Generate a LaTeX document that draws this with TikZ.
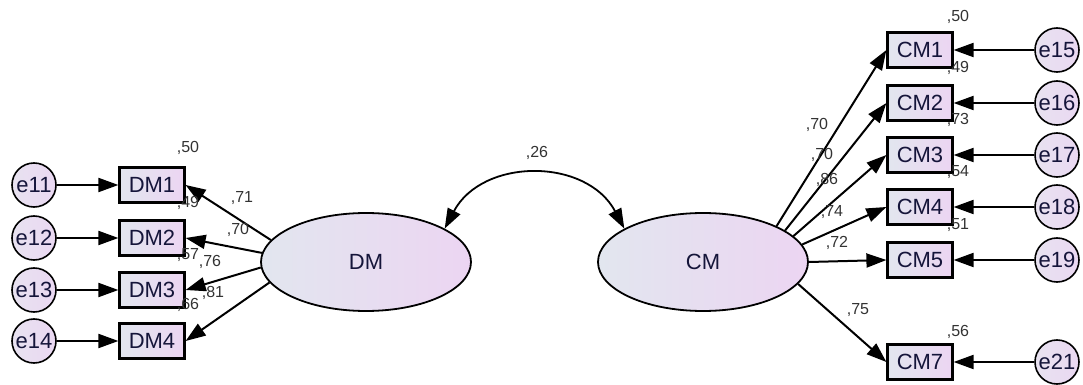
\documentclass[tikz,border=0pt]{standalone}
\usepackage{fontspec}
\setmainfont{Liberation Sans}
\usetikzlibrary{arrows.meta,shapes.geometric}
\definecolor{fillL}{HTML}{E2E6EF}
\definecolor{fillR}{HTML}{ECD5F2}
\definecolor{errL}{HTML}{E8E2F0}
\definecolor{errR}{HTML}{EAD8F2}
\definecolor{txt}{HTML}{15153A}
\tikzset{
	obsbox/.style={draw, rectangle, line width=1.1pt, minimum width=32.5pt, minimum height=17.5pt, inner sep=0pt, left color=fillL, right color=fillR, text=txt, font=\fontsize{11}{12}\selectfont},
	errnode/.style={draw, circle, line width=0.8pt, minimum size=22pt, inner sep=0pt, left color=errL, right color=errR, text=txt, font=\fontsize{11}{12}\selectfont},
	latent/.style={draw, ellipse, line width=0.9pt, minimum width=105pt, minimum height=49pt, inner sep=0pt, left color=fillL, right color=fillR, text=txt, font=\fontsize{11}{12}\selectfont},
	coef/.style={inner sep=0pt, text=black!80, font=\fontsize{8}{9}\selectfont},
	regpath/.style={-{Triangle[length=10pt,width=7pt]}, line width=1pt},
}
\begin{document}
\begin{tikzpicture}[x=0.5pt,y=-0.5pt]
	\useasboundingbox (0,0) rectangle (1083,385);
	
	% latent variables
	\node[latent] (DM) at (366,262) {DM};
	\node[latent] (CM) at (703,262) {CM};
	
	% DM indicators
	\node[obsbox] (DM1) at (152,185) {DM1};
	\node[obsbox] (DM2) at (152,238) {DM2};
	\node[obsbox] (DM3) at (152,290) {DM3};
	\node[obsbox] (DM4) at (152,341) {DM4};
	\node[errnode] (e11) at (34,185) {e11};
	\node[errnode] (e12) at (34,238) {e12};
	\node[errnode] (e13) at (34,290) {e13};
	\node[errnode] (e14) at (34,341) {e14};
	
	% CM indicators
	\node[obsbox] (CM1) at (920,50) {CM1};
	\node[obsbox] (CM2) at (920,103) {CM2};
	\node[obsbox] (CM3) at (920,155) {CM3};
	\node[obsbox] (CM4) at (920,207) {CM4};
	\node[obsbox] (CM5) at (920,260) {CM5};
	\node[obsbox] (CM7) at (920,362) {CM7};
	\node[errnode] (e15) at (1057,50) {e15};
	\node[errnode] (e16) at (1057,103) {e16};
	\node[errnode] (e17) at (1057,155) {e17};
	\node[errnode] (e18) at (1057,207) {e18};
	\node[errnode] (e19) at (1057,260) {e19};
	\node[errnode] (e21) at (1057,362) {e21};
	
	\draw[regpath] (e11) -- (DM1);
	\draw[regpath] (e12) -- (DM2);
	\draw[regpath] (e13) -- (DM3);
	\draw[regpath] (e14) -- (DM4);
	\draw[regpath] (DM.167) -- (DM1.east);
	\draw[regpath] (DM.175) -- (DM2.east);
	\draw[regpath] (DM.183) -- (DM3.east);
	\draw[regpath] (DM.192) -- (DM4.east);
	
	\draw[regpath] (e15) -- (CM1);
	\draw[regpath] (e16) -- (CM2);
	\draw[regpath] (e17) -- (CM3);
	\draw[regpath] (e18) -- (CM4);
	\draw[regpath] (e19) -- (CM5);
	\draw[regpath] (e21) -- (CM7);
	\draw[regpath] (CM.26) -- (CM1.west);
	\draw[regpath] (CM.21) -- (CM2.west);
	\draw[regpath] (CM.16) -- (CM3.west);
	\draw[regpath] (CM.10) -- (CM4.west);
	\draw[regpath] (CM.0) -- (CM5.west);
	\draw[regpath] (CM.-13) -- (CM7.west);
	
	% covariance
	\draw[{Triangle[length=10pt,width=7pt]}-{Triangle[length=10pt,width=7pt]}, line width=0.9pt] (DM.23) to[out=62,in=118,looseness=1.15] (CM.157);
	\node[coef] (r) at (537,153) {,26};
	
	% estimates
	\node[coef] (r2DM1) at (188,148) {,50};
	\node[coef] (r2DM2) at (188,203) {,49};
	\node[coef] (r2DM3) at (188,255) {,57};
	\node[coef] (r2DM4) at (188,305) {,66};
	\node[coef] (lDM1) at (242,198) {,71};
	\node[coef] (lDM2) at (238,230) {,70};
	\node[coef] (lDM3) at (210,262) {,76};
	\node[coef] (lDM4) at (213,293) {,81};
	
	\node[coef] (r2CM1) at (958,17) {,50};
	\node[coef] (r2CM2) at (958,68) {,49};
	\node[coef] (r2CM3) at (958,120) {,73};
	\node[coef] (r2CM4) at (958,172) {,54};
	\node[coef] (r2CM5) at (958,225) {,51};
	\node[coef] (r2CM7) at (958,332) {,56};
	\node[coef] (lCM1) at (817,125) {,70};
	\node[coef] (lCM2) at (822,155) {,70};
	\node[coef] (lCM3) at (827,180) {,86};
	\node[coef] (lCM4) at (832,212) {,74};
	\node[coef] (lCM5) at (837,243) {,72};
	\node[coef] (lCM7) at (858,310) {,75};
\end{tikzpicture}
\end{document}
